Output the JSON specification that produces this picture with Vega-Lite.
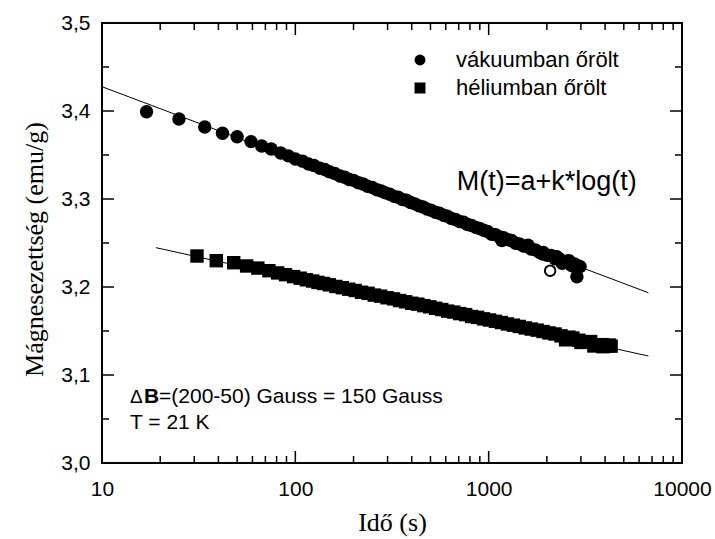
{
  "$schema": "https://vega.github.io/schema/vega-lite/v6.json",
  "width": 580,
  "height": 440,
  "autosize": "none",
  "padding": {"left": 102, "top": 23, "right": 33, "bottom": 76},
  "background": "white",
  "config": {
    "view": {"stroke": "black", "strokeWidth": 2},
    "font": "Liberation Sans",
    "axis": {
      "domain": false,
      "ticks": false,
      "labelColor": "black",
      "labelFont": "Liberation Sans",
      "labelFontSize": 21,
      "labelOverlap": false,
      "labelFlush": false,
      "grid": false,
      "titleColor": "black",
      "titleFont": "Liberation Serif",
      "titleFontSize": 26,
      "titleFontWeight": "normal"
    }
  },
  "datasets": {
    "meresek": [
      {"minta": "vákuumban őrölt", "t": 17, "M": 3.3992},
      {"minta": "vákuumban őrölt", "t": 25, "M": 3.3909},
      {"minta": "vákuumban őrölt", "t": 34, "M": 3.3818},
      {"minta": "vákuumban őrölt", "t": 42, "M": 3.3747},
      {"minta": "vákuumban őrölt", "t": 50, "M": 3.3708},
      {"minta": "vákuumban őrölt", "t": 59, "M": 3.3652},
      {"minta": "vákuumban őrölt", "t": 67, "M": 3.3602},
      {"minta": "vákuumban őrölt", "t": 75, "M": 3.3568},
      {"minta": "vákuumban őrölt", "t": 84, "M": 3.3522},
      {"minta": "vákuumban őrölt", "t": 92, "M": 3.3490},
      {"minta": "vákuumban őrölt", "t": 100, "M": 3.3455},
      {"minta": "vákuumban őrölt", "t": 109, "M": 3.3430},
      {"minta": "vákuumban őrölt", "t": 117, "M": 3.3398},
      {"minta": "vákuumban őrölt", "t": 125, "M": 3.3380},
      {"minta": "vákuumban őrölt", "t": 134, "M": 3.3350},
      {"minta": "vákuumban őrölt", "t": 142, "M": 3.3335},
      {"minta": "vákuumban őrölt", "t": 150, "M": 3.3310},
      {"minta": "vákuumban őrölt", "t": 160, "M": 3.3290},
      {"minta": "vákuumban őrölt", "t": 170, "M": 3.3262},
      {"minta": "vákuumban őrölt", "t": 180, "M": 3.3248},
      {"minta": "vákuumban őrölt", "t": 190, "M": 3.3222},
      {"minta": "vákuumban őrölt", "t": 200, "M": 3.3212},
      {"minta": "vákuumban őrölt", "t": 212, "M": 3.3185},
      {"minta": "vákuumban őrölt", "t": 224, "M": 3.3170},
      {"minta": "vákuumban őrölt", "t": 236, "M": 3.3145},
      {"minta": "vákuumban őrölt", "t": 250, "M": 3.3130},
      {"minta": "vákuumban őrölt", "t": 264, "M": 3.3105},
      {"minta": "vákuumban őrölt", "t": 278, "M": 3.3092},
      {"minta": "vákuumban őrölt", "t": 292, "M": 3.3070},
      {"minta": "vákuumban őrölt", "t": 308, "M": 3.3055},
      {"minta": "vákuumban őrölt", "t": 324, "M": 3.3030},
      {"minta": "vákuumban őrölt", "t": 340, "M": 3.3020},
      {"minta": "vákuumban őrölt", "t": 358, "M": 3.2995},
      {"minta": "vákuumban őrölt", "t": 376, "M": 3.2985},
      {"minta": "vákuumban őrölt", "t": 395, "M": 3.2960},
      {"minta": "vákuumban őrölt", "t": 415, "M": 3.2945},
      {"minta": "vákuumban őrölt", "t": 436, "M": 3.2922},
      {"minta": "vákuumban őrölt", "t": 458, "M": 3.2910},
      {"minta": "vákuumban őrölt", "t": 480, "M": 3.2885},
      {"minta": "vákuumban őrölt", "t": 504, "M": 3.2872},
      {"minta": "vákuumban őrölt", "t": 530, "M": 3.2850},
      {"minta": "vákuumban őrölt", "t": 556, "M": 3.2838},
      {"minta": "vákuumban őrölt", "t": 584, "M": 3.2815},
      {"minta": "vákuumban őrölt", "t": 612, "M": 3.2805},
      {"minta": "vákuumban őrölt", "t": 642, "M": 3.2778},
      {"minta": "vákuumban őrölt", "t": 674, "M": 3.2768},
      {"minta": "vákuumban őrölt", "t": 708, "M": 3.2745},
      {"minta": "vákuumban őrölt", "t": 742, "M": 3.2735},
      {"minta": "vákuumban őrölt", "t": 778, "M": 3.2710},
      {"minta": "vákuumban őrölt", "t": 816, "M": 3.2700},
      {"minta": "vákuumban őrölt", "t": 856, "M": 3.2678},
      {"minta": "vákuumban őrölt", "t": 898, "M": 3.2665},
      {"minta": "vákuumban őrölt", "t": 942, "M": 3.2645},
      {"minta": "vákuumban őrölt", "t": 988, "M": 3.2630},
      {"minta": "vákuumban őrölt", "t": 1036, "M": 3.2600},
      {"minta": "vákuumban őrölt", "t": 1086, "M": 3.2595},
      {"minta": "vákuumban őrölt", "t": 1140, "M": 3.2568},
      {"minta": "vákuumban őrölt", "t": 1170, "M": 3.2528},
      {"minta": "vákuumban őrölt", "t": 1196, "M": 3.2560},
      {"minta": "vákuumban őrölt", "t": 1254, "M": 3.2538},
      {"minta": "vákuumban őrölt", "t": 1314, "M": 3.2528},
      {"minta": "vákuumban őrölt", "t": 1378, "M": 3.2498},
      {"minta": "vákuumban őrölt", "t": 1444, "M": 3.2490},
      {"minta": "vákuumban őrölt", "t": 1514, "M": 3.2465},
      {"minta": "vákuumban őrölt", "t": 1588, "M": 3.2458},
      {"minta": "vákuumban őrölt", "t": 1600, "M": 3.2475},
      {"minta": "vákuumban őrölt", "t": 1664, "M": 3.2430},
      {"minta": "vákuumban őrölt", "t": 1744, "M": 3.2422},
      {"minta": "vákuumban őrölt", "t": 1828, "M": 3.2395},
      {"minta": "vákuumban őrölt", "t": 1900, "M": 3.2375},
      {"minta": "vákuumban őrölt", "t": 1916, "M": 3.2392},
      {"minta": "vákuumban őrölt", "t": 2008, "M": 3.2360},
      {"minta": "vákuumban őrölt", "t": 2104, "M": 3.2358},
      {"minta": "vákuumban őrölt", "t": 2204, "M": 3.2320},
      {"minta": "vákuumban őrölt", "t": 2250, "M": 3.2345},
      {"minta": "vákuumban őrölt", "t": 2310, "M": 3.2325},
      {"minta": "vákuumban őrölt", "t": 2400, "M": 3.2270},
      {"minta": "vákuumban őrölt", "t": 2420, "M": 3.2290},
      {"minta": "vákuumban őrölt", "t": 2536, "M": 3.2292},
      {"minta": "vákuumban őrölt", "t": 2600, "M": 3.2300},
      {"minta": "vákuumban őrölt", "t": 2656, "M": 3.2255},
      {"minta": "vákuumban őrölt", "t": 2700, "M": 3.2240},
      {"minta": "vákuumban őrölt", "t": 2782, "M": 3.2262},
      {"minta": "vákuumban őrölt", "t": 2860, "M": 3.2117},
      {"minta": "vákuumban őrölt", "t": 2914, "M": 3.2240},
      {"minta": "vákuumban őrölt", "t": 2970, "M": 3.2232},
      {"minta": "héliumban őrölt", "t": 31, "M": 3.2352},
      {"minta": "héliumban őrölt", "t": 39, "M": 3.2299},
      {"minta": "héliumban őrölt", "t": 48, "M": 3.2276},
      {"minta": "héliumban őrölt", "t": 56, "M": 3.2239},
      {"minta": "héliumban őrölt", "t": 64, "M": 3.2215},
      {"minta": "héliumban őrölt", "t": 73, "M": 3.2185},
      {"minta": "héliumban őrölt", "t": 81, "M": 3.2160},
      {"minta": "héliumban őrölt", "t": 89, "M": 3.2140},
      {"minta": "héliumban őrölt", "t": 98, "M": 3.2118},
      {"minta": "héliumban őrölt", "t": 106, "M": 3.2100},
      {"minta": "héliumban őrölt", "t": 114, "M": 3.2082},
      {"minta": "héliumban őrölt", "t": 123, "M": 3.2068},
      {"minta": "héliumban őrölt", "t": 131, "M": 3.2052},
      {"minta": "héliumban őrölt", "t": 140, "M": 3.2040},
      {"minta": "héliumban őrölt", "t": 150, "M": 3.2025},
      {"minta": "héliumban őrölt", "t": 162, "M": 3.2006},
      {"minta": "héliumban őrölt", "t": 175, "M": 3.1992},
      {"minta": "héliumban őrölt", "t": 189, "M": 3.1975},
      {"minta": "héliumban őrölt", "t": 204, "M": 3.1960},
      {"minta": "héliumban őrölt", "t": 220, "M": 3.1940},
      {"minta": "héliumban őrölt", "t": 238, "M": 3.1928},
      {"minta": "héliumban őrölt", "t": 256, "M": 3.1908},
      {"minta": "héliumban őrölt", "t": 276, "M": 3.1896},
      {"minta": "héliumban őrölt", "t": 298, "M": 3.1878},
      {"minta": "héliumban őrölt", "t": 322, "M": 3.1865},
      {"minta": "héliumban őrölt", "t": 346, "M": 3.1846},
      {"minta": "héliumban őrölt", "t": 372, "M": 3.1832},
      {"minta": "héliumban őrölt", "t": 400, "M": 3.1815},
      {"minta": "héliumban őrölt", "t": 430, "M": 3.1805},
      {"minta": "héliumban őrölt", "t": 462, "M": 3.1788},
      {"minta": "héliumban őrölt", "t": 496, "M": 3.1775},
      {"minta": "héliumban őrölt", "t": 532, "M": 3.1758},
      {"minta": "héliumban őrölt", "t": 572, "M": 3.1744},
      {"minta": "héliumban őrölt", "t": 614, "M": 3.1726},
      {"minta": "héliumban őrölt", "t": 660, "M": 3.1715},
      {"minta": "héliumban őrölt", "t": 708, "M": 3.1698},
      {"minta": "héliumban őrölt", "t": 760, "M": 3.1686},
      {"minta": "héliumban őrölt", "t": 816, "M": 3.1665},
      {"minta": "héliumban őrölt", "t": 876, "M": 3.1655},
      {"minta": "héliumban őrölt", "t": 940, "M": 3.1638},
      {"minta": "héliumban őrölt", "t": 1010, "M": 3.1625},
      {"minta": "héliumban őrölt", "t": 1084, "M": 3.1610},
      {"minta": "héliumban őrölt", "t": 1164, "M": 3.1596},
      {"minta": "héliumban őrölt", "t": 1250, "M": 3.1580},
      {"minta": "héliumban őrölt", "t": 1342, "M": 3.1566},
      {"minta": "héliumban őrölt", "t": 1440, "M": 3.1552},
      {"minta": "héliumban őrölt", "t": 1546, "M": 3.1535},
      {"minta": "héliumban őrölt", "t": 1660, "M": 3.1522},
      {"minta": "héliumban őrölt", "t": 1782, "M": 3.1510},
      {"minta": "héliumban őrölt", "t": 1912, "M": 3.1494},
      {"minta": "héliumban őrölt", "t": 2052, "M": 3.1478},
      {"minta": "héliumban őrölt", "t": 2204, "M": 3.1466},
      {"minta": "héliumban őrölt", "t": 2366, "M": 3.1445},
      {"minta": "héliumban őrölt", "t": 2500, "M": 3.1400},
      {"minta": "héliumban őrölt", "t": 2540, "M": 3.1415},
      {"minta": "héliumban őrölt", "t": 2600, "M": 3.1430},
      {"minta": "héliumban őrölt", "t": 2726, "M": 3.1420},
      {"minta": "héliumban őrölt", "t": 2926, "M": 3.1395},
      {"minta": "héliumban őrölt", "t": 3000, "M": 3.1370},
      {"minta": "héliumban őrölt", "t": 3140, "M": 3.1372},
      {"minta": "héliumban őrölt", "t": 3370, "M": 3.1380},
      {"minta": "héliumban őrölt", "t": 3500, "M": 3.1330},
      {"minta": "héliumban őrölt", "t": 3620, "M": 3.1338},
      {"minta": "héliumban őrölt", "t": 3880, "M": 3.1345},
      {"minta": "héliumban őrölt", "t": 3900, "M": 3.1322},
      {"minta": "héliumban őrölt", "t": 4100, "M": 3.1330},
      {"minta": "héliumban őrölt", "t": 4200, "M": 3.1340},
      {"minta": "héliumban őrölt", "t": 4300, "M": 3.1328}
    ],
    "illesztes": [
      {"minta": "vákuumban őrölt", "t": 10, "M": 3.4276},
      {"minta": "vákuumban őrölt", "t": 6700, "M": 3.1935},
      {"minta": "héliumban őrölt", "t": 19, "M": 3.2447},
      {"minta": "héliumban őrölt", "t": 6700, "M": 3.1216}
    ],
    "ido_fo": [{"t": 10}, {"t": 100}, {"t": 1000}, {"t": 10000}],
    "ido_mellek": [
      {"t": 20}, {"t": 30}, {"t": 40}, {"t": 50}, {"t": 60}, {"t": 70}, {"t": 80}, {"t": 90},
      {"t": 200}, {"t": 300}, {"t": 400}, {"t": 500}, {"t": 600}, {"t": 700}, {"t": 800}, {"t": 900},
      {"t": 2000}, {"t": 3000}, {"t": 4000}, {"t": 5000}, {"t": 6000}, {"t": 7000}, {"t": 8000}, {"t": 9000}
    ],
    "m_fo": [{"M": 3.0}, {"M": 3.1}, {"M": 3.2}, {"M": 3.3}, {"M": 3.4}, {"M": 3.5}],
    "m_mellek": [{"M": 3.05}, {"M": 3.15}, {"M": 3.25}, {"M": 3.35}, {"M": 3.45}]
  },
  "layer": [
    {
      "data": {"name": "illesztes"},
      "mark": {"type": "line", "color": "black", "strokeWidth": 1},
      "encoding": {
        "x": {
          "field": "t", "type": "quantitative",
          "scale": {"type": "log", "domain": [10, 10000], "nice": false},
          "axis": {
            "orient": "bottom",
            "values": [10, 100, 1000, 10000],
            "labelPadding": 15,
            "format": "d",
            "title": "Idő (s)",
            "titleY": 67,
            "titleBaseline": "alphabetic"
          }
        },
        "y": {
          "field": "M", "type": "quantitative",
          "scale": {"domain": [3.0, 3.5], "nice": false, "zero": false},
          "axis": {
            "orient": "left",
            "values": [3.0, 3.1, 3.2, 3.3, 3.4, 3.5],
            "labelPadding": 12,
            "labelExpr": "replace(format(datum.value, '.1f'), '.', ',')",
            "title": "Mágnesezettség (emu/g)",
            "titleX": -60,
            "titleY": 226,
            "titleBaseline": "alphabetic"
          }
        },
        "detail": {"field": "minta", "type": "nominal"}
      }
    },
    {
      "data": {"name": "meresek"},
      "mark": {"type": "point", "filled": true, "size": 180, "color": "black", "opacity": 1},
      "encoding": {
        "x": {"field": "t", "type": "quantitative"},
        "y": {"field": "M", "type": "quantitative"},
        "shape": {
          "field": "minta", "type": "nominal",
          "scale": {"domain": ["vákuumban őrölt", "héliumban őrölt"], "range": ["circle", "square"]},
          "legend": {
            "title": null,
            "orient": "none",
            "legendX": 307,
            "legendY": 26,
            "padding": 0,
            "labelFont": "Liberation Sans",
            "labelFontSize": 22,
            "labelFontStyle": "normal",
            "labelColor": "black",
            "labelLimit": 400,
            "labelOffset": 25,
            "symbolSize": 120,
            "symbolFillColor": "black",
            "symbolStrokeWidth": 0,
            "rowPadding": 6
          }
        }
      }
    },
    {
      "data": {"values": [{"t": 2080, "M": 3.2185}]},
      "mark": {"type": "point", "filled": false, "size": 110, "color": "black", "strokeWidth": 2, "opacity": 1},
      "encoding": {
        "x": {"field": "t", "type": "quantitative"},
        "y": {"field": "M", "type": "quantitative"}
      }
    },
    {
      "data": {"name": "ido_fo"},
      "mark": {"type": "tick", "orient": "vertical", "size": 24, "thickness": 1.5, "color": "black", "opacity": 1, "clip": true},
      "encoding": {
        "x": {"field": "t", "type": "quantitative"},
        "y": {"datum": 3.0, "type": "quantitative"}
      }
    },
    {
      "data": {"name": "ido_fo"},
      "mark": {"type": "tick", "orient": "vertical", "size": 24, "thickness": 1.5, "color": "black", "opacity": 1, "clip": true},
      "encoding": {
        "x": {"field": "t", "type": "quantitative"},
        "y": {"datum": 3.5, "type": "quantitative"}
      }
    },
    {
      "data": {"name": "ido_mellek"},
      "mark": {"type": "tick", "orient": "vertical", "size": 14, "thickness": 1.5, "color": "black", "opacity": 1, "clip": true},
      "encoding": {
        "x": {"field": "t", "type": "quantitative"},
        "y": {"datum": 3.0, "type": "quantitative"}
      }
    },
    {
      "data": {"name": "ido_mellek"},
      "mark": {"type": "tick", "orient": "vertical", "size": 14, "thickness": 1.5, "color": "black", "opacity": 1, "clip": true},
      "encoding": {
        "x": {"field": "t", "type": "quantitative"},
        "y": {"datum": 3.5, "type": "quantitative"}
      }
    },
    {
      "data": {"name": "m_fo"},
      "mark": {"type": "tick", "orient": "horizontal", "size": 24, "thickness": 1.5, "color": "black", "opacity": 1, "clip": true},
      "encoding": {
        "y": {"field": "M", "type": "quantitative"},
        "x": {"datum": 10, "type": "quantitative"}
      }
    },
    {
      "data": {"name": "m_fo"},
      "mark": {"type": "tick", "orient": "horizontal", "size": 24, "thickness": 1.5, "color": "black", "opacity": 1, "clip": true},
      "encoding": {
        "y": {"field": "M", "type": "quantitative"},
        "x": {"datum": 10000, "type": "quantitative"}
      }
    },
    {
      "data": {"name": "m_mellek"},
      "mark": {"type": "tick", "orient": "horizontal", "size": 14, "thickness": 1.5, "color": "black", "opacity": 1, "clip": true},
      "encoding": {
        "y": {"field": "M", "type": "quantitative"},
        "x": {"datum": 10, "type": "quantitative"}
      }
    },
    {
      "data": {"name": "m_mellek"},
      "mark": {"type": "tick", "orient": "horizontal", "size": 14, "thickness": 1.5, "color": "black", "opacity": 1, "clip": true},
      "encoding": {
        "y": {"field": "M", "type": "quantitative"},
        "x": {"datum": 10000, "type": "quantitative"}
      }
    },
    {
      "data": {"values": [{}]},
      "mark": {"type": "text", "text": "M(t)=a+k*log(t)", "font": "Liberation Sans", "fontSize": 27, "align": "left", "baseline": "alphabetic", "color": "black"},
      "encoding": {
        "x": {"datum": 684, "type": "quantitative"},
        "y": {"datum": 3.3102, "type": "quantitative"}
      }
    },
    {
      "data": {"values": [{}]},
      "mark": {"type": "text", "text": "Δ", "font": "Liberation Sans", "fontSize": 19, "align": "left", "baseline": "alphabetic", "color": "black"},
      "encoding": {
        "x": {"datum": 13.96, "type": "quantitative"},
        "y": {"datum": 3.0682, "type": "quantitative"}
      }
    },
    {
      "data": {"values": [{}]},
      "mark": {"type": "text", "text": "B", "font": "Liberation Sans", "fontSize": 21, "fontWeight": "bold", "align": "left", "baseline": "alphabetic", "color": "black"},
      "encoding": {
        "x": {"datum": 16.49, "type": "quantitative"},
        "y": {"datum": 3.0682, "type": "quantitative"}
      }
    },
    {
      "data": {"values": [{}]},
      "mark": {"type": "text", "text": "=(200-50) Gauss = 150 Gauss", "font": "Liberation Sans", "fontSize": 21, "align": "left", "baseline": "alphabetic", "color": "black"},
      "encoding": {
        "x": {"datum": 19.72, "type": "quantitative"},
        "y": {"datum": 3.0682, "type": "quantitative"}
      }
    },
    {
      "data": {"values": [{}]},
      "mark": {"type": "text", "text": "T = 21 K", "font": "Liberation Sans", "fontSize": 21, "align": "left", "baseline": "alphabetic", "color": "black"},
      "encoding": {
        "x": {"datum": 13.96, "type": "quantitative"},
        "y": {"datum": 3.0386, "type": "quantitative"}
      }
    }
  ]
}
